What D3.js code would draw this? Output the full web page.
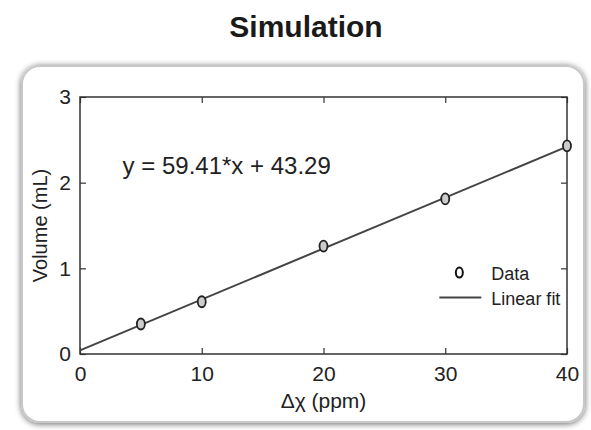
<!DOCTYPE html>
<html>
<head>
<meta charset="utf-8">
<script src="https://cdn.jsdelivr.net/npm/d3@7"></script>
<style>
  body { margin: 0; background: #fff; }
  svg { font-family: 'Liberation Sans', Arial, sans-serif; }
</style>
</head>
<body>
<div id="plot"></div>
<script>
// Data
let dataX = [5, 10, 20, 30, 40]
let dataY = [0.35, 0.61, 1.26, 1.81, 2.43]
let fitX = [0, 40]
let fitY = [0.043, 2.42]
let xTicks = [0, 10, 20, 30, 40]
let yTicks = [0, 1, 2, 3]
let equation = 'y = 59.41*x + 43.29'

let W = 591, H = 430
let margin = {t: 97, r: 24, b: 76, l: 80}
let width = W - margin.l - margin.r
let height = H - margin.t - margin.b

let svg = d3.select('#plot').append('svg')
  .attr('width', W)
  .attr('height', H)

// Shadow filter for the rounded panel
let defs = svg.append('defs')
let f = defs.append('filter').attr('id', 'shadow')
  .attr('x', '-5%').attr('y', '-5%').attr('width', '110%').attr('height', '110%')
f.append('feGaussianBlur').attr('in', 'SourceAlpha').attr('stdDeviation', 3)
f.append('feOffset').attr('dx', 0).attr('dy', 1).attr('result', 'b')
f.append('feComponentTransfer').append('feFuncA').attr('type', 'linear').attr('slope', 0.6)
let fm = f.append('feMerge')
fm.append('feMergeNode')
fm.append('feMergeNode').attr('in', 'SourceGraphic')

svg.append('rect')
  .attr('x', 22).attr('y', 66)
  .attr('width', 562).attr('height', 356)
  .attr('rx', 18)
  .style('fill', '#fff')
  .style('stroke', '#c8c8c8')
  .style('stroke-width', 2)
  .attr('filter', 'url(#shadow)')

svg.append('text')
  .attr('x', 306).attr('y', 37)
  .attr('text-anchor', 'middle')
  .style('font-size', '30px')
  .style('font-weight', 'bold')
  .style('fill', '#1a1a1a')
  .text('Simulation')

let g = svg.append('g')
  .attr('transform', `translate(${margin.l},${margin.t})`)

let x = d3.scaleLinear().domain([0, 40]).range([0, width])
let y = d3.scaleLinear().domain([0, 3]).range([height, 0])

// Axes with inward ticks
let tickStyle = function(sel) {
  sel.select('.domain').remove()
  sel.selectAll('line').style('stroke', '#333').style('stroke-width', 1.2)
  sel.selectAll('text').style('font-size', '21px').style('fill', '#222')
}

g.append('g')
  .attr('transform', `translate(0,${height})`)
  .call(d3.axisBottom(x).tickValues(xTicks).tickFormat(d3.format('d'))
    .tickSizeInner(-6).tickSizeOuter(0).tickPadding(12))
  .call(tickStyle)

g.append('g')
  .call(d3.axisLeft(y).tickValues(yTicks).tickFormat(d3.format('d'))
    .tickSizeInner(-6).tickSizeOuter(0).tickPadding(9))
  .call(tickStyle)

g.append('g')
  .call(d3.axisTop(x).tickValues(xTicks).tickSizeInner(-6).tickSizeOuter(0).tickFormat(''))
  .call(tickStyle)

g.append('g')
  .attr('transform', `translate(${width},0)`)
  .call(d3.axisRight(y).tickValues(yTicks).tickSizeInner(-6).tickSizeOuter(0).tickFormat(''))
  .call(tickStyle)

g.append('rect')
  .attr('width', width).attr('height', height)
  .style('fill', 'none')
  .style('stroke', '#333')
  .style('stroke-width', 1.5)

// Axis labels
svg.append('text')
  .attr('x', margin.l + width / 2).attr('y', 408)
  .attr('text-anchor', 'middle')
  .style('font-size', '21px')
  .style('fill', '#222')
  .text('Δχ (ppm)')

svg.append('text')
  .attr('transform', `translate(47,${margin.t + height / 2}) rotate(-90)`)
  .attr('text-anchor', 'middle')
  .style('font-size', '20px')
  .style('fill', '#222')
  .text('Volume (mL)')

// Fit line
let line = d3.line()
  .x(function(d) { return x(d[0]) })
  .y(function(d) { return y(d[1]) })

g.append('path')
  .datum(d3.zip(fitX, fitY))
  .attr('d', line)
  .style('fill', 'none')
  .style('stroke', '#444')
  .style('stroke-width', 2)

// Data markers
g.selectAll('.pt')
  .data(d3.zip(dataX, dataY))
  .enter().append('ellipse')
  .attr('class', 'pt')
  .attr('cx', function(d) { return x(d[0]) })
  .attr('cy', function(d) { return y(d[1]) })
  .attr('rx', 4).attr('ry', 5.5)
  .style('fill', '#ccc')
  .style('stroke', '#222')
  .style('stroke-width', 1.8)

// Equation
g.append('text')
  .attr('x', x(3.5)).attr('y', y(2.1))
  .style('font-size', '24px')
  .style('fill', '#222')
  .text(equation)

// Legend
let lg = g.append('g').attr('transform', `translate(${x(30.5)},${y(0.95)})`)
lg.append('ellipse')
  .attr('cx', 8).attr('cy', 0)
  .attr('rx', 3.5).attr('ry', 5)
  .style('fill', 'none')
  .style('stroke', '#111')
  .style('stroke-width', 2)
lg.append('text')
  .attr('x', 40).attr('y', 7)
  .style('font-size', '18px').style('fill', '#222')
  .text('Data')
lg.append('line')
  .attr('x1', -12).attr('x2', 30)
  .attr('y1', 25).attr('y2', 25)
  .style('stroke', '#444').style('stroke-width', 2)
lg.append('text')
  .attr('x', 40).attr('y', 32)
  .style('font-size', '18px').style('fill', '#222')
  .text('Linear fit')
</script>
</body>
</html>
